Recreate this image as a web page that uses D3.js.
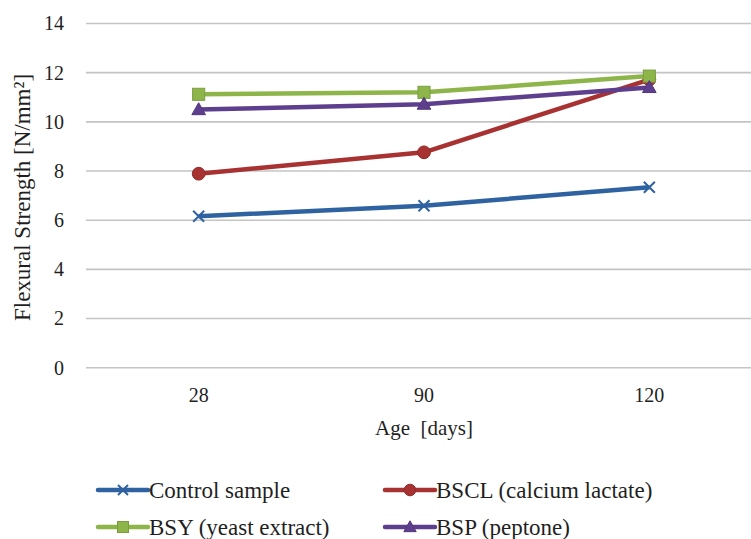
<!DOCTYPE html>
<html>
<head>
<meta charset="utf-8">
<script src="https://cdn.jsdelivr.net/npm/d3@7"></script>
<style>
  body { margin: 0; background: #fff; }
  text { font-family: "Liberation Serif", "Times New Roman", serif; fill: #1f1f1f; }
</style>
</head>
<body>
<div id="wrapper"></div>
<script>
// data
const ages = ["28", "90", "120"]
const yTicks = [0, 2, 4, 6, 8, 10, 12, 14]
const seriesNames = ["Control sample", "BSCL (calcium lactate)", "BSY (yeast extract)", "BSP (peptone)"]
const control = [6.16, 6.59, 7.34]
const bscl = [7.89, 8.76, 11.72]
const bsy = [11.12, 11.2, 11.86]
const bsp = [10.5, 10.72, 11.4]

const styles = [
    { color: "#2e62a0", marker: "x" },
    { color: "#a83232", marker: "circle" },
    { color: "#8db54a", marker: "square" },
    { color: "#5e3f8e", marker: "triangle" },
]
const seriesValues = [control, bscl, bsy, bsp]

// 2. dimensions
const dimensions = {
    width: 751,
    height: 539,
    margins: { top: 23.5, right: -11, bottom: 171.3, left: 86 },
}
dimensions.boundedWidth = dimensions.width - dimensions.margins.left - dimensions.margins.right
dimensions.boundedHeight = dimensions.height - dimensions.margins.top - dimensions.margins.bottom

// 3. canvas
const wrapper = d3.select("#wrapper")
    .append("svg")
        .attr("width", dimensions.width)
        .attr("height", dimensions.height)

const bounds = wrapper.append("g")
    .attr("transform", `translate(${dimensions.margins.left},${dimensions.margins.top})`)

// 4. scales
const xScale = d3.scaleBand()
    .domain(ages)
    .range([0, dimensions.boundedWidth])

const yScale = d3.scaleLinear()
    .domain([0, 14])
    .range([dimensions.boundedHeight, 0])

// gridlines
bounds.append("g")
    .selectAll("line")
    .data(yTicks)
    .enter().append("line")
        .attr("x1", 0)
        .attr("x2", dimensions.boundedWidth)
        .attr("y1", d => yScale(d))
        .attr("y2", d => yScale(d))
        .attr("stroke", "#c4c4c4")
        .attr("stroke-width", 1.6)

// y axis labels
const yAxis = bounds.append("g")
    .call(d3.axisLeft(yScale).tickValues(yTicks).tickSize(0).tickPadding(22))
yAxis.select(".domain").remove()
yAxis.selectAll("text")
    .style("font-size", "20px")
    .style("font-family", "Liberation Serif")
    .attr("fill", "#1f1f1f")

// x axis labels
const xAxis = bounds.append("g")
    .attr("transform", `translate(0,${dimensions.boundedHeight})`)
    .call(d3.axisBottom(xScale).tickSize(0).tickPadding(20))
xAxis.select(".domain").remove()
xAxis.selectAll("text")
    .style("font-size", "20px")
    .style("font-family", "Liberation Serif")
    .attr("fill", "#1f1f1f")

// axis titles
wrapper.append("text")
    .attr("x", 424)
    .attr("y", 435)
    .attr("text-anchor", "middle")
    .style("font-size", "21px")
    .style("white-space", "pre")
    .text("Age  [days]")

wrapper.append("text")
    .attr("transform", "translate(30,197.5) rotate(-90)")
    .attr("text-anchor", "middle")
    .style("font-size", "23px")
    .text("Flexural Strength [N/mm²]")

// markers
function drawMarker(g, type, color, size) {
    if (type === "x") {
        const s = size * 0.5
        g.append("path")
            .attr("d", `M${-s},${-s}L${s},${s}M${-s},${s}L${s},${-s}`)
            .attr("stroke", color)
            .attr("stroke-width", 2)
            .attr("fill", "none")
    } else if (type === "circle") {
        g.append("circle")
            .attr("r", size * 0.58)
            .attr("fill", color)
            .attr("stroke", d3.color(color).darker(0.4))
            .attr("stroke-width", 1)
    } else if (type === "square") {
        const s = size * 0.55
        g.append("rect")
            .attr("x", -s).attr("y", -s)
            .attr("width", 2 * s).attr("height", 2 * s)
            .attr("fill", color)
            .attr("stroke", d3.color(color).darker(0.4))
            .attr("stroke-width", 1)
    } else {
        const s = size * 0.62
        g.append("path")
            .attr("d", `M0,${-s}L${s},${s * 0.75}L${-s},${s * 0.75}Z`)
            .attr("fill", color)
            .attr("stroke", d3.color(color).darker(0.4))
            .attr("stroke-width", 1)
    }
}

// 5. lines
const lineGenerator = d3.line()
    .x((d, i) => xScale(ages[i]) + xScale.bandwidth() / 2)
    .y(d => yScale(d))

seriesValues.forEach((values, si) => {
    const st = styles[si]
    bounds.append("path")
        .datum(values)
        .attr("d", lineGenerator)
        .attr("fill", "none")
        .attr("stroke", st.color)
        .attr("stroke-width", 4.5)
        .attr("stroke-linejoin", "round")
    values.forEach((v, i) => {
        const g = bounds.append("g")
            .attr("transform", `translate(${xScale(ages[i]) + xScale.bandwidth() / 2},${yScale(v)})`)
        drawMarker(g, st.marker, st.color, 11)
    })
})

// 6. legend
const legendPos = [
    { x: 98, y: 490 },
    { x: 385, y: 490 },
    { x: 98, y: 527 },
    { x: 385, y: 527 },
]
seriesNames.forEach((name, si) => {
    const st = styles[si]
    const p = legendPos[si]
    const g = wrapper.append("g").attr("transform", `translate(${p.x},${p.y})`)
    g.append("line")
        .attr("x1", 0).attr("x2", 50)
        .attr("stroke", st.color)
        .attr("stroke-width", 4.5)
        .attr("stroke-linecap", "round")
    const m = g.append("g").attr("transform", "translate(25,0)")
    drawMarker(m, st.marker, st.color, 10)
    g.append("text")
        .attr("x", 51)
        .attr("dy", "0.33em")
        .style("font-size", "23px")
        .text(name)
})
</script>
</body>
</html>
